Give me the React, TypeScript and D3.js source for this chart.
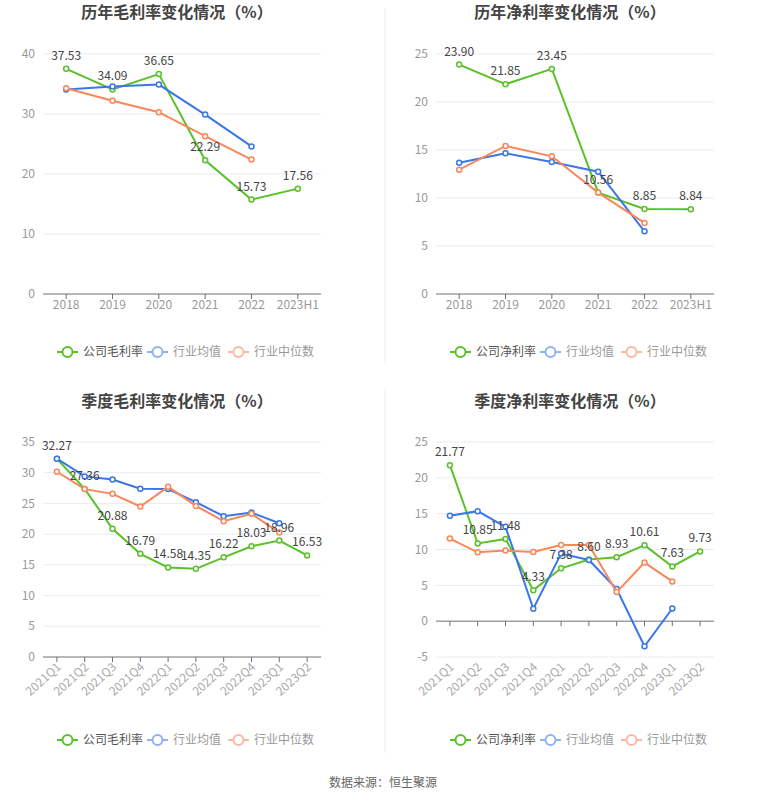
import * as d3 from 'd3';
import React, { useEffect, useRef } from 'react';

const years = ['2018', '2019', '2020', '2021', '2022', '2023H1'];
const quarters = ['2021Q1', '2021Q2', '2021Q3', '2021Q4', '2022Q1', '2022Q2', '2022Q3', '2022Q4', '2023Q1', '2023Q2'];

const yearGross = [37.53, 34.09, 36.65, 22.29, 15.73, 17.56];
const yearGrossAvg = [34.1, 34.6, 34.9, 29.9, 24.6, null];
const yearGrossMed = [34.3, 32.2, 30.3, 26.3, 22.4, null];

const yearNet = [23.9, 21.85, 23.45, 10.56, 8.85, 8.84];
const yearNetAvg = [13.68, 14.65, 13.75, 12.74, 6.53, null];
const yearNetMed = [12.95, 15.42, 14.34, 10.56, 7.4, null];

const qGross = [32.27, 27.36, 20.88, 16.79, 14.58, 14.35, 16.22, 18.03, 18.96, 16.53];
const qGrossAvg = [32.28, 29.4, 28.9, 27.38, 27.33, 25.2, 22.92, 23.52, 21.77, null];
const qGrossMed = [30.16, 27.33, 26.56, 24.5, 27.7, 24.6, 22.1, 23.3, 20.25, null];

const qNet = [21.77, 10.85, 11.48, 4.33, 7.38, 8.6, 8.93, 10.61, 7.63, 9.73];
const qNetAvg = [14.7, 15.35, 13.16, 1.73, 9.43, 8.54, 4.48, -3.5, 1.77, null];
const qNetMed = [11.53, 9.61, 9.85, 9.66, 10.64, 10.64, 4.06, 8.17, 5.55, null];

const grossLegend = ['公司毛利率', '行业均值', '行业中位数'];
const netLegend = ['公司净利率', '行业均值', '行业中位数'];

const colors = ['#5ac12b', '#3a77e6', '#f8875a'];
const legendColors = ['#5ac12b', '#8fb2f1', '#fbb9a0'];
const legendText = ['#555', '#999', '#999'];
const FONT = '"Noto Sans CJK SC", "Noto Sans", sans-serif';

interface PanelCfg {
    title: string;
    cats: string[];
    series: (number | null)[][];
    legend: string[];
    domain: [number, number];
    step: number;
    x0: number;
    x1: number;
    yTop: number;
    yBottom: number;
    titleY: number;
    legendY: number;
    rotate: boolean;
}

const panels: PanelCfg[] = [
    { title: '历年毛利率变化情况（%）', cats: years, series: [yearGross, yearGrossAvg, yearGrossMed], legend: grossLegend, domain: [0, 40], step: 10, x0: 43, x1: 321, yTop: 54, yBottom: 294, titleY: 12, legendY: 352, rotate: false },
    { title: '历年净利率变化情况（%）', cats: years, series: [yearNet, yearNetAvg, yearNetMed], legend: netLegend, domain: [0, 25], step: 5, x0: 436, x1: 714, yTop: 54, yBottom: 294, titleY: 12, legendY: 352, rotate: false },
    { title: '季度毛利率变化情况（%）', cats: quarters, series: [qGross, qGrossAvg, qGrossMed], legend: grossLegend, domain: [0, 35], step: 5, x0: 43, x1: 321, yTop: 442, yBottom: 657, titleY: 401, legendY: 740, rotate: true },
    { title: '季度净利率变化情况（%）', cats: quarters, series: [qNet, qNetAvg, qNetMed], legend: netLegend, domain: [-5, 25], step: 5, x0: 436, x1: 714, yTop: 442, yBottom: 657, titleY: 401, legendY: 740, rotate: true },
];

const App = () => {
    const svgRef = useRef<SVGSVGElement | null>(null);

    useEffect(() => {
        document.body.style.margin = '0';
        const svg = d3.select(svgRef.current);
        svg.selectAll('*').remove();
        svg.attr('width', 765).attr('height', 801).style('font-family', FONT).style('background', '#fff');

        // divider lines
        svg.append('line').attr('x1', 385).attr('x2', 385).attr('y1', 8).attr('y2', 364).attr('stroke', '#eee');
        svg.append('line').attr('x1', 385).attr('x2', 385).attr('y1', 388).attr('y2', 753).attr('stroke', '#eee');

        panels.forEach((p) => {
            const g = svg.append('g');
            const x = d3.scalePoint().domain(p.cats).range([p.x0, p.x1]).padding(0.5);
            const band = (p.x1 - p.x0) / p.cats.length;
            const y = d3.scaleLinear().domain(p.domain).range([p.yBottom, p.yTop]);
            const ticks = d3.range(p.domain[0], p.domain[1] + 0.001, p.step);

            g.append('text')
                .attr('x', (p.x0 + p.x1) / 2 - 5)
                .attr('y', p.titleY)
                .attr('dy', '0.35em')
                .attr('text-anchor', 'middle')
                .attr('font-size', 16)
                .attr('font-weight', 'bold')
                .attr('fill', '#444')
                .text(p.title);

            // grid
            g.selectAll('.grid')
                .data(ticks.filter((t) => t !== 0))
                .join('line')
                .attr('x1', p.x0)
                .attr('x2', p.x1)
                .attr('y1', (d) => y(d))
                .attr('y2', (d) => y(d))
                .attr('stroke', '#e8ecf4');

            g.selectAll('.ylab')
                .data(ticks)
                .join('text')
                .attr('x', p.x0 - 8)
                .attr('y', (d) => y(d))
                .attr('dy', '0.35em')
                .attr('text-anchor', 'end')
                .attr('font-size', 12)
                .attr('fill', '#999')
                .text((d) => d);

            // axis line at zero
            const y0 = y(0);
            g.append('line').attr('x1', p.x0).attr('x2', p.x1).attr('y1', y0).attr('y2', y0).attr('stroke', '#6e7079');
            g.selectAll('.tick')
                .data(p.cats)
                .join('line')
                .attr('x1', (d) => x(d)!)
                .attr('x2', (d) => x(d)!)
                .attr('y1', y0)
                .attr('y2', y0 + 5)
                .attr('stroke', '#6e7079');

            if (p.rotate) {
                g.selectAll('.xlab')
                    .data(p.cats)
                    .join('text')
                    .attr('transform', (d) => `translate(${x(d)! + 2},${p.yBottom + 8}) rotate(-42)`)
                    .attr('text-anchor', 'end')
                    .attr('dy', '0.35em')
                    .attr('font-size', 12)
                    .attr('fill', '#aaa')
                    .text((d) => d);
            } else {
                g.selectAll('.xlab')
                    .data(p.cats)
                    .join('text')
                    .attr('x', (d) => x(d)!)
                    .attr('y', p.yBottom + 11)
                    .attr('dy', '0.35em')
                    .attr('text-anchor', 'middle')
                    .attr('font-size', 12)
                    .attr('fill', '#999')
                    .text((d) => d);
            }

            const line = d3
                .line<number | null>()
                .defined((d) => d !== null)
                .x((_, i) => x(p.cats[i])!)
                .y((d) => y(d as number));

            p.series.forEach((s, si) => {
                g.append('path').attr('d', line(s)).attr('fill', 'none').attr('stroke', colors[si]).attr('stroke-width', 2);
                g.selectAll(`.pt${si}`)
                    .data(s.map((v, i) => ({ v, i })).filter((d) => d.v !== null))
                    .join('circle')
                    .attr('cx', (d) => x(p.cats[d.i])!)
                    .attr('cy', (d) => y(d.v as number))
                    .attr('r', 2.5)
                    .attr('fill', '#fff')
                    .attr('stroke', colors[si])
                    .attr('stroke-width', 1.5);
            });

            g.selectAll('.vlab')
                .data(p.series[0].map((v, i) => ({ v, i })))
                .join('text')
                .attr('x', (d) => x(p.cats[d.i])!)
                .attr('y', (d) => y(d.v as number) - 9)
                .attr('text-anchor', 'middle')
                .attr('font-size', 12)
                .attr('fill', '#444')
                .text((d) => (d.v as number).toFixed(2));

            // legend
            const offs = [14, 104, 185];
            p.legend.forEach((name, li) => {
                const lx = p.x0 + offs[li];
                const lg = g.append('g');
                lg.append('line').attr('x1', lx).attr('x2', lx + 21).attr('y1', p.legendY).attr('y2', p.legendY).attr('stroke', legendColors[li]).attr('stroke-width', 2);
                lg.append('circle').attr('cx', lx + 10.5).attr('cy', p.legendY).attr('r', 5).attr('fill', '#fff').attr('stroke', legendColors[li]).attr('stroke-width', 2);
                lg.append('text').attr('x', lx + 26).attr('y', p.legendY).attr('dy', '0.35em').attr('font-size', 12).attr('fill', legendText[li]).text(name);
            });
            void band;
        });

        svg.append('text')
            .attr('x', 383)
            .attr('y', 783)
            .attr('dy', '0.35em')
            .attr('text-anchor', 'middle')
            .attr('font-size', 12)
            .attr('fill', '#666')
            .text('数据来源：恒生聚源');
    });

    return <svg ref={svgRef} />;
};

export default App;
